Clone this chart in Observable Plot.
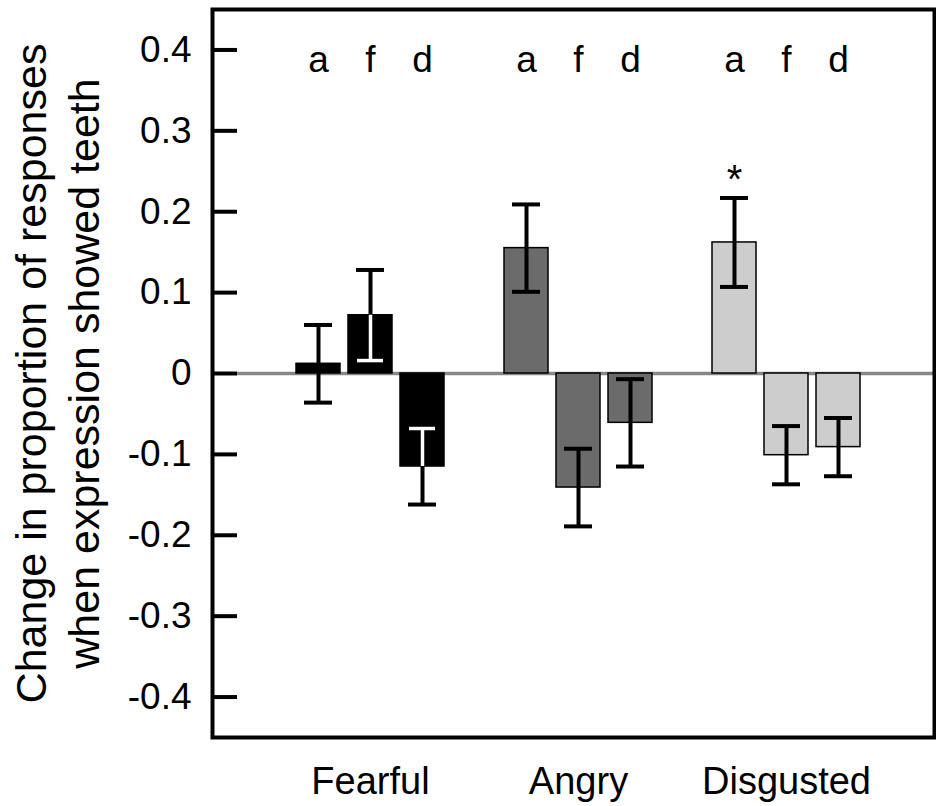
<!DOCTYPE html>
<html><head><meta charset="utf-8">
<script src="https://cdn.jsdelivr.net/npm/d3@7"></script>
<script src="https://cdn.jsdelivr.net/npm/@observablehq/plot@0.6"></script>
<style>
html,body{margin:0;padding:0;background:#fff;}
#chart svg{display:block;}
</style>
</head><body><div id="chart"></div>
<script>
// ---- data ----
const emotions = ["Fearful", "Angry", "Disgusted"];
const responseTypes = ["a", "f", "d"];
const fearfulMeans = [0.012, 0.072, -0.115];
const angryMeans = [0.155, -0.141, -0.061];
const disgustedMeans = [0.162, -0.101, -0.091];
const fearfulErrors = [0.048, 0.056, 0.047];
const angryErrors = [0.054, 0.048, 0.054];
const disgustedErrors = [0.055, 0.036, 0.036];
const significant = [["Disgusted", "a"]];
const yTicks = [-0.4, -0.3, -0.2, -0.1, 0, 0.1, 0.2, 0.3, 0.4];
const yLabelLines = ["Change in proportion of responses", "when expression showed teeth"];

// ---- build table ----
const meansBy = {Fearful: fearfulMeans, Angry: angryMeans, Disgusted: disgustedMeans};
const errorsBy = {Fearful: fearfulErrors, Angry: angryErrors, Disgusted: disgustedErrors};
const keyOf = (e, t) => e + "|" + t;
const data = emotions.flatMap(e => responseTypes.map((t, i) => {
  const mean = meansBy[e][i], err = errorsBy[e][i];
  return {emotion: e, type: t, key: keyOf(e, t), mean, lo: mean - err, hi: mean + err};
}));
const xDomain = emotions.flatMap((e, i) => [
  ...responseTypes.map(t => keyOf(e, t)),
  ...(i < emotions.length - 1 ? ["gap" + i] : [])
]);
// white part of error bars drawn inside the black (Fearful) bars
const whiteParts = data.filter(d => d.emotion === emotions[0]).map(d => {
  const bLo = Math.min(0, d.mean), bHi = Math.max(0, d.mean);
  const loIn = d.lo > bLo && d.lo < bHi, hiIn = d.hi > bLo && d.hi < bHi;
  if (!loIn && !hiIn) return null;
  return {key: d.key, y1: Math.max(d.lo, bLo), y2: Math.min(d.hi, bHi), cap: loIn ? d.lo : d.hi};
}).filter(Boolean);
const sigData = data.filter(d => significant.some(([e, t]) => e === d.emotion && t === d.type));

const chart = Plot.plot({
  width: 936, height: 806,
  marginLeft: 212, marginRight: 2, marginTop: 9, marginBottom: 69,
  style: {fontFamily: "'Liberation Sans', Arial, Helvetica, sans-serif", background: "white", color: "black"},
  x: {type: "band", domain: xDomain, paddingInner: 0.155, paddingOuter: 1.5, align: 0.53},
  y: {domain: [-0.45, 0.45]},
  color: {domain: emotions, range: ["#000000", "#6b6b6b", "#cdcdcd"]},
  marks: [
    Plot.ruleY([0], {stroke: "#888888", strokeWidth: 3.5, insetLeft: 25}),
    Plot.barY(data, {x: "key", y: "mean", fill: "emotion", stroke: "black", strokeWidth: 1.5}),
    Plot.ruleX(data, {x: "key", y1: "lo", y2: "hi", stroke: "black", strokeWidth: 4}),
    Plot.tickY(data, {x: "key", y: "lo", stroke: "black", strokeWidth: 4, inset: 8}),
    Plot.tickY(data, {x: "key", y: "hi", stroke: "black", strokeWidth: 4, inset: 8}),
    Plot.ruleX(whiteParts, {x: "key", y1: "y1", y2: "y2", stroke: "white", strokeWidth: 3.5}),
    Plot.tickY(whiteParts, {x: "key", y: "cap", stroke: "white", strokeWidth: 3.5, inset: 9}),
    Plot.frame({stroke: "black", strokeWidth: 4}),
    Plot.axisY(yTicks, {tickSize: -25, tickPadding: 46, strokeWidth: 4, fontSize: 37, label: null,
      tickFormat: d => d === 0 ? "0" : d.toFixed(1)}),
    Plot.axisX(emotions.map(e => keyOf(e, responseTypes[1])), {tickSize: 0, tickPadding: 30, fontSize: 38, label: null,
      tickFormat: k => k.split("|")[0]}),
    Plot.text(data, {x: "key", text: "type", frameAnchor: "top", lineAnchor: "bottom", dy: 62, fontSize: 37}),
    Plot.text(sigData, {x: "key", y: "hi", text: () => "*", lineAnchor: "bottom", dy: -5, fontSize: 40}),
    Plot.text([yLabelLines.join("\n")], {text: d => d, frameAnchor: "left", rotate: -90, dx: -157,
      fontSize: 43, lineHeight: 1.22, textAnchor: "middle"})
  ]
});
document.getElementById("chart").appendChild(chart);
</script>
</body></html>
